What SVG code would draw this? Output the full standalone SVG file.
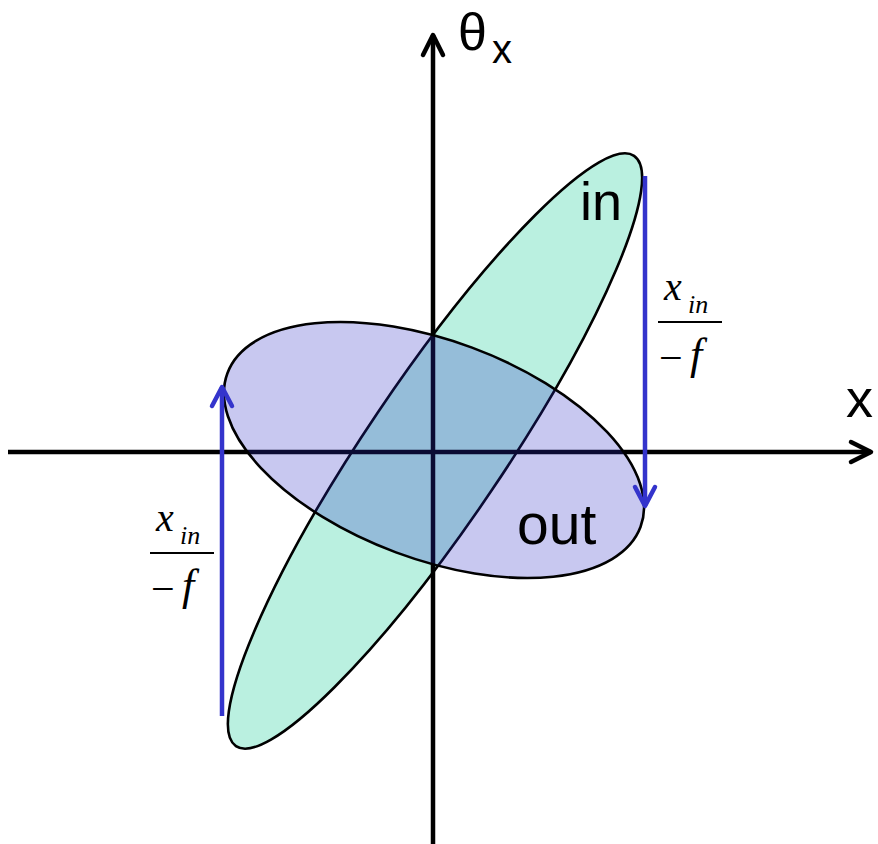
<svg xmlns="http://www.w3.org/2000/svg" width="878" height="844" viewBox="0 0 878 844">
<style>
.axis{stroke:#000;stroke-width:4.5;fill:none}
.ell{stroke:#000;stroke-width:2.6}
.blue{stroke:#3434CC;stroke-width:4.5;fill:none}
.lbl{font-family:"Liberation Sans",Arial,sans-serif;fill:#000}
.m{font-family:"Liberation Serif","Times New Roman",serif;font-style:italic;fill:#000}
.mn{font-family:"Liberation Serif","Times New Roman",serif;fill:#000}
.fl{stroke:#000;stroke-width:2.2}
</style>
<defs>
<marker id="ahk" markerUnits="userSpaceOnUse" viewBox="-30 -15 40 30" markerWidth="40" markerHeight="30" refX="0" refY="0" orient="auto" overflow="visible">
<path d="M-20,-10 L0,0 L-20,10" fill="none" stroke="#000" stroke-width="4.5" stroke-linecap="round" stroke-linejoin="round"/>
</marker>
<marker id="ahb" markerUnits="userSpaceOnUse" viewBox="-30 -15 40 30" markerWidth="40" markerHeight="30" refX="0" refY="0" orient="auto" overflow="visible">
<path d="M-19,-10 L0,0 L-19,10" fill="none" stroke="#3434CC" stroke-width="4.5" stroke-linecap="round" stroke-linejoin="round"/>
</marker>
</defs>
<rect width="878" height="844" fill="#fff"/>
<g id="ellipse-in">
<ellipse class="ell" cx="435" cy="451" rx="356" ry="69" transform="rotate(-56 435 451)" fill="#BAF0E0"/>
</g>
<g id="axes">
<line class="axis" x1="8" y1="452" x2="871" y2="452" marker-end="url(#ahk)"/>
<line class="axis" x1="433" y1="844" x2="433" y2="35" marker-end="url(#ahk)"/>
</g>
<g id="ellipse-out">
<ellipse cx="434" cy="450" rx="220.4" ry="109.2" transform="rotate(20.4 434 450)" fill="rgb(44,44,197)" fill-opacity="0.26" stroke="none"/>
<ellipse class="ell" cx="434" cy="450" rx="220.4" ry="109.2" transform="rotate(20.4 434 450)" fill="none"/>
</g>
<g id="connectors">
<line class="blue" x1="222" y1="716" x2="222" y2="387" marker-end="url(#ahb)"/>
<line class="blue" x1="645" y1="176" x2="645" y2="506" marker-end="url(#ahb)"/>
</g>
<g id="label-theta">
<text class="lbl" x="458" y="50" font-size="52">θ</text>
<text class="lbl" x="492" y="63" font-size="40">x</text>
</g>
<g id="label-x">
<text class="lbl" x="846" y="417" font-size="54">x</text>
</g>
<g id="label-in">
<text class="lbl" x="580" y="220" font-size="54">in</text>
</g>
<g id="label-out">
<text class="lbl" x="517" y="544" font-size="57">out</text>
</g>
<g id="frac-right">
<text class="m" x="664" y="300" font-size="40">x</text>
<text class="m" x="688" y="313" font-size="26">in</text>
<line class="fl" x1="658" y1="322" x2="722" y2="322"/>
<text class="mn" x="659" y="372" font-size="42">−</text>
<text class="m" x="690" y="369" font-size="44">f</text>
</g>
<g id="frac-left">
<text class="m" x="156" y="531" font-size="40">x</text>
<text class="m" x="180" y="544" font-size="26">in</text>
<line class="fl" x1="150" y1="553" x2="214" y2="553"/>
<text class="mn" x="151" y="603" font-size="42">−</text>
<text class="m" x="182" y="600" font-size="44">f</text>
</g>
</svg>
